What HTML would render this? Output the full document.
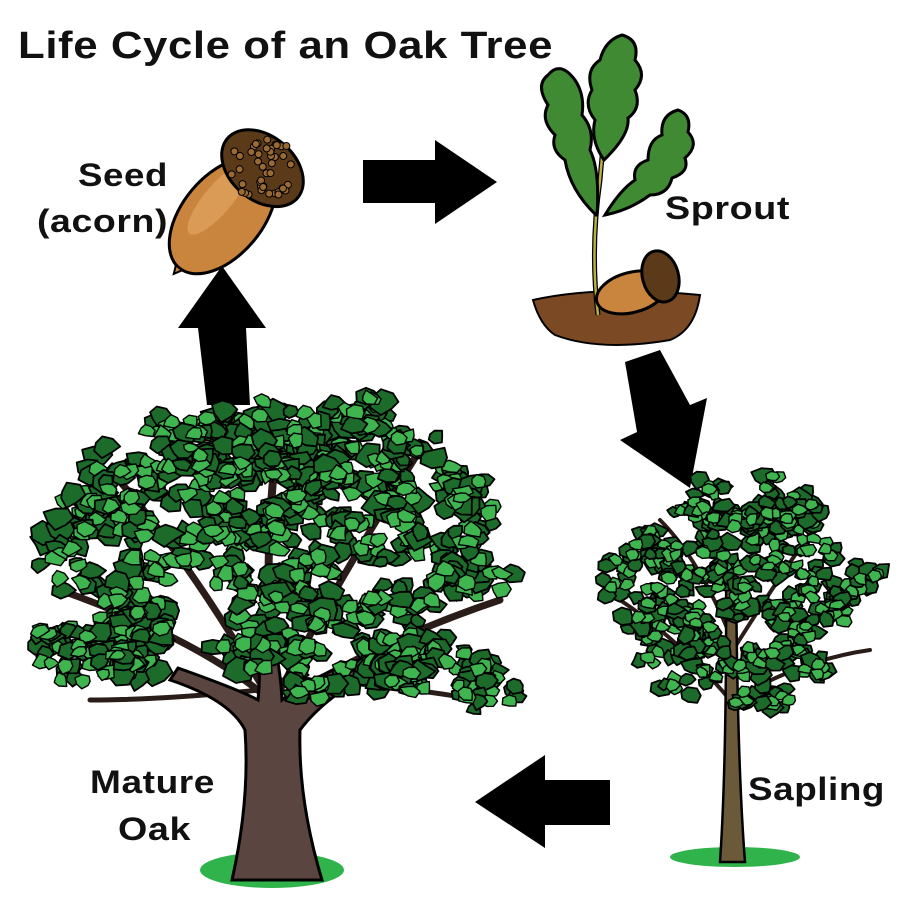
<!DOCTYPE html>
<html><head><meta charset="utf-8"><style>
html,body{margin:0;padding:0;background:#fff}
svg{display:block}
text{font-family:"Liberation Sans",sans-serif;font-weight:bold;fill:#111;letter-spacing:0.5px}
</style></head><body>
<svg id="s" width="910" height="910" viewBox="0 0 910 910" xmlns="http://www.w3.org/2000/svg">
<text x="18" y="58" font-size="38" textLength="535" lengthAdjust="spacingAndGlyphs">Life Cycle of an Oak Tree</text>
<text x="78" y="186" font-size="32" textLength="90" lengthAdjust="spacingAndGlyphs">Seed</text>
<text x="37" y="232" font-size="32" textLength="131" lengthAdjust="spacingAndGlyphs">(acorn)</text>
<text x="665" y="219" font-size="32" textLength="125" lengthAdjust="spacingAndGlyphs">Sprout</text>
<text x="748" y="800" font-size="32" textLength="137" lengthAdjust="spacingAndGlyphs">Sapling</text>
<text x="90" y="793" font-size="32" textLength="125" lengthAdjust="spacingAndGlyphs">Mature</text>
<text x="118" y="840" font-size="32" textLength="73" lengthAdjust="spacingAndGlyphs">Oak</text>

<polygon points="363,160 435,160 435,140 497,182 435,224 435,203 363,203" fill="#000"/>
<polygon points="625,362 660,350 690,405 707,398 690,488 620,440 637,432" fill="#000"/>
<polygon points="610,780 545,780 545,755 475,802 545,848 545,825 610,825" fill="#000"/>
<polygon points="207,405 250,405 246,328 266,328 222,266 178,328 198,328" fill="#000"/>

<g transform="rotate(40 240 195)">
<ellipse cx="240" cy="222" rx="40" ry="68" fill="#c9843d" stroke="#000" stroke-width="3"/>
<ellipse cx="226" cy="212" rx="14" ry="45" fill="#e0a560" opacity=".7"/>
<ellipse cx="240" cy="160" rx="46" ry="32" fill="#5b3a1a" stroke="#000" stroke-width="3"/>
<path d="M236,290 L240,298 L244,290Z" fill="#c9843d" stroke="#000" stroke-width="2"/>
</g>
<g id="acornDots"></g>

<path d="M533,300 Q600,285 700,295 Q695,330 670,340 Q600,352 555,335 Q540,325 533,300Z" fill="#7b4a24" stroke="#000" stroke-width="2"/>
<path d="M598,315 Q590,250 600,180 Q605,120 610,90" stroke="#000" stroke-width="5" fill="none"/>
<path d="M598,315 Q590,250 600,180 Q605,120 610,90" stroke="#b8b040" stroke-width="2.5" fill="none"/>
<path d="M596,215 Q570,190 565,160 Q550,150 555,135 Q540,120 548,105 Q535,85 548,75 Q560,60 575,80 Q585,95 582,115 Q595,130 590,150 Q600,170 597,215Z" fill="#3f8a33" stroke="#000" stroke-width="3"/>
<path d="M604,160 Q590,140 595,120 Q583,105 592,90 Q585,70 600,60 Q605,40 622,35 Q640,40 635,60 Q648,75 635,90 Q642,108 628,118 Q630,135 604,160Z" fill="#3f8a33" stroke="#000" stroke-width="3"/>
<path d="M605,215 Q620,190 635,180 Q632,165 648,160 Q648,140 662,135 Q660,115 678,110 Q692,115 688,132 Q700,145 685,158 Q690,172 672,178 Q668,195 650,195 Q630,210 605,215Z" fill="#3f8a33" stroke="#000" stroke-width="3"/>
<g transform="rotate(-15 640 285)">
<ellipse cx="630" cy="290" rx="36" ry="20" fill="#c9843d" stroke="#000" stroke-width="3"/>
<ellipse cx="662" cy="282" rx="18" ry="26" fill="#5b3a1a" stroke="#000" stroke-width="3"/>
</g>

<ellipse cx="272" cy="870" rx="72" ry="18" fill="#2fb34a"/>
<g stroke="#2a1c18" stroke-linecap="round" fill="none">
<path d="M270,700 Q200,640 60,590" stroke-width="7"/>
<path d="M270,700 Q190,560 110,470" stroke-width="7"/>
<path d="M275,690 Q260,560 280,420" stroke-width="8"/>
<path d="M280,690 Q350,560 420,450" stroke-width="7"/>
<path d="M285,700 Q380,640 500,600" stroke-width="7"/>
<path d="M280,680 Q360,680 480,700" stroke-width="5"/>
<path d="M260,690 Q160,700 90,700" stroke-width="5"/>
</g>
<path d="M232,880 Q250,800 245,730 Q230,700 170,680 L178,668 Q240,690 258,700 Q262,660 255,630 L270,630 Q280,660 282,700 Q320,670 390,650 L395,662 Q330,690 300,730 Q298,800 322,880Z" fill="#5b4540" stroke="#000" stroke-width="3"/>
<g id="oak"></g>

<ellipse cx="735" cy="857" rx="65" ry="10" fill="#2fb34a"/>
<g stroke="#2a1c18" stroke-linecap="round" fill="none" stroke-width="4">
<path d="M730,700 Q680,640 620,600"/><path d="M732,640 Q700,560 660,520"/>
<path d="M733,650 Q790,560 820,520"/><path d="M734,700 Q800,660 870,650"/>
</g>
<path d="M720,862 Q727,760 726,560 L736,560 Q737,760 745,862Z" fill="#6b5a3a" stroke="#000" stroke-width="2.5"/>
<g id="sap"></g>
</svg>
<script>
var seed=11;function r(){seed=(seed*16807)%2147483647;return seed/2147483647;}
var NS="http://www.w3.org/2000/svg";
function blob(g,x,y,s,fill,sw){
 var p="",n=7;
 for(var k=0;k<n;k++){var a=k/n*6.283,rr=s*(0.6+r()*0.6);p+=(k?"L":"M")+(x+Math.cos(a)*rr).toFixed(1)+","+(y+Math.sin(a)*rr*0.8).toFixed(1);}
 var e=document.createElementNS(NS,"path");e.setAttribute("d",p+"Z");
 e.setAttribute("fill",fill);e.setAttribute("stroke","#000");e.setAttribute("stroke-width",sw);e.setAttribute("stroke-linejoin","round");g.appendChild(e);
}
function clusters(id,cx,cy,rx,ry,nc,cs,bs){
 var g=document.getElementById(id);
 for(var i=0;i<nc;i++){
  var a=r()*6.283,d=Math.sqrt(r());
  var x=cx+Math.cos(a)*d*rx,y=cy+Math.sin(a)*d*ry;
  for(var j=0;j<4;j++){var bx=x+(r()-.5)*cs,by=y+(r()-.5)*cs*0.7;
   blob(g,bx,by,bs*(0.7+r()*0.5),"#1d6b2b",1.8);}
  for(var j=0;j<3;j++){var bx=x+(r()-.5)*cs*0.8,by=y+(r()-.5)*cs*0.6;
   blob(g,bx,by,bs*0.75,"#3fb54f",1.4);}
 }
}
clusters("oak",275,550,225,140,120,40,13);
clusters("oak",300,445,150,40,28,40,12);
clusters("oak",100,650,70,45,14,38,12);
clusters("oak",450,670,60,35,10,38,12);
clusters("sap",740,600,130,100,70,32,10);
clusters("sap",745,505,70,22,12,30,10);
var ad=document.getElementById("acornDots");
for(var i=0;i<45;i++){var a=r()*6.283,d=Math.sqrt(r());
 var c=document.createElementNS(NS,"circle");
 c.setAttribute("cx",262+Math.cos(a)*d*36);c.setAttribute("cy",168+Math.sin(a)*d*30);
 c.setAttribute("r",3.5);c.setAttribute("fill","#9a6a35");c.setAttribute("stroke","#000");c.setAttribute("stroke-width","1");ad.appendChild(c);}
</script>
</body></html>
